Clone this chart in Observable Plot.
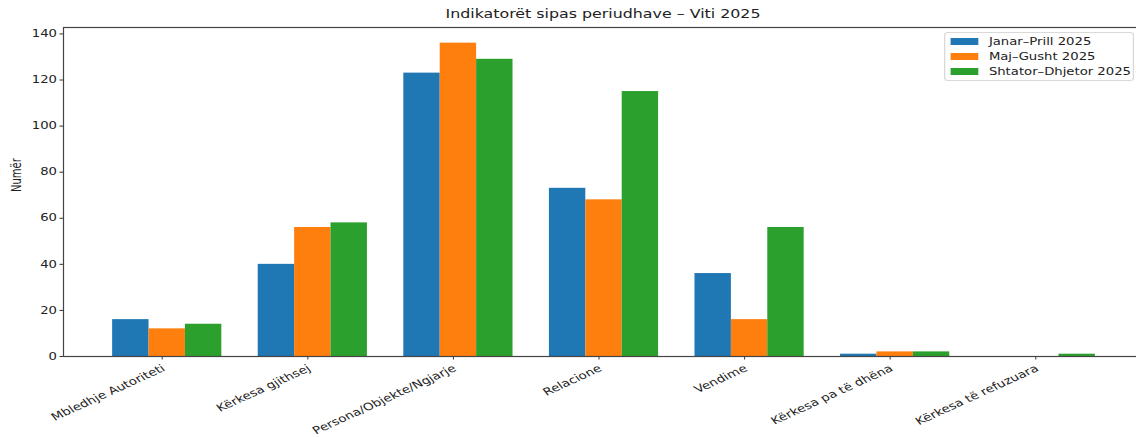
<!DOCTYPE html>
<html>
<head>
<meta charset="utf-8">
<script src="https://cdn.jsdelivr.net/npm/d3@7"></script>
<script src="https://cdn.jsdelivr.net/npm/@observablehq/plot@0.6"></script>
<style>
  html, body { margin: 0; padding: 0; background: #fff; overflow: hidden; }
  #wrap { position: relative; width: 1150px; height: 437px; font-family: "DejaVu Sans", sans-serif; }
  #title { position: absolute; left: 0; width: 1206px; top: 7px; text-align: center; font-size: 12px; color: #222;
           transform: scaleX(1.32); transform-origin: 603px 0; }
  #legend { position: absolute; left: 944px; top: 32px; width: 144px; height: 49px; box-sizing: border-box;
            border: 1px solid #d9d9d9; border-radius: 3px; background: rgba(255,255,255,0.8); font-size: 10px; color: #222;
            transform: scaleX(1.32); transform-origin: 0 0; }
  .row { position: absolute; left: 3.5px; display: flex; align-items: center; height: 14px; }
  .sw { width: 21px; height: 7px; margin-right: 8.5px; }
</style>
</head>
<body>
<div id="wrap">
  <div id="chart"></div>
  <div id="title">Indikatorët sipas periudhave – Viti 2025</div>
  <div id="legend"></div>
</div>
<script>
const categories = ["Mbledhje Autoriteti", "Kërkesa gjithsej", "Persona/Objekte/Ngjarje", "Relacione", "Vendime", "Kërkesa pa të dhëna", "Kërkesa të refuzuara"];
const series = ["Janar–Prill 2025", "Maj–Gusht 2025", "Shtator–Dhjetor 2025"];
const janarPrill = [16, 40, 123, 73, 36, 1, 0];
const majGusht = [12, 56, 136, 68, 16, 2, 0];
const shtatorDhjetor = [14, 58, 129, 115, 56, 2, 1];
const colors = ["#1f77b4", "#ff7f0e", "#2ca02c"];
const yTicks = [0, 20, 40, 60, 80, 100, 120, 140];
const barWidth = 0.25;
const STRETCH = 1.32;

const seriesValues = [janarPrill, majGusht, shtatorDhjetor];
const data = [];
categories.forEach((c, i) => {
  series.forEach((s, j) => {
    const x1 = i - barWidth * 1.5 + j * barWidth;
    data.push({cat: c, series: s, value: seriesValues[j][i], x1, x2: x1 + barWidth});
  });
});

const chart = Plot.plot({
  width: 1150,
  height: 437,
  marginLeft: 63,
  marginRight: 6,
  marginTop: 27,
  marginBottom: 81,
  style: {fontFamily: "DejaVu Sans, sans-serif", fontSize: "10px", color: "#222", background: "#fff"},
  x: {domain: [-0.7125, 6.7125]},
  y: {domain: [0, 142.8]},
  color: {domain: series, range: colors},
  marks: [
    Plot.rectY(data, {x1: "x1", x2: "x2", y1: 0, y2: "value", fill: "series", stroke: "none"}),
    Plot.axisX({ticks: d3.range(categories.length), tickFormat: i => categories[i], tickRotate: -31,
                textAnchor: "end", lineAnchor: "top", dx: -5,
                tickSize: 3.5, tickPadding: 4, label: null, fontSize: 10.3, stroke: "#333"}),
    Plot.axisY({ticks: yTicks, tickSize: 3.5, tickPadding: 3, label: null, fontSize: 10, stroke: "#333"}),
    Plot.text(["Numër"], {frameAnchor: "left", dx: -46, rotate: -90, fontSize: 10, fill: "#222"}),
    Plot.frame({stroke: "#444", strokeWidth: 1.2})
  ]
});
document.getElementById("chart").appendChild(chart);

// The reference picture is stretched horizontally: stretch every text about its anchor point
function stretchText(el, s) {
  const x = el.x.baseVal.numberOfItems ? el.x.baseVal.getItem(0).value : 0;
  const y = el.y.baseVal.numberOfItems ? el.y.baseVal.getItem(0).value : 0;
  const tl = el.transform.baseVal.consolidate();
  const m = tl ? tl.matrix : null;
  const ax = m ? m.a * x + m.c * y + m.e : x;
  const ay = m ? m.b * x + m.d * y + m.f : y;
  const g = document.createElementNS("http://www.w3.org/2000/svg", "g");
  g.setAttribute("transform", `translate(${ax},${ay}) scale(${s},1) translate(${-ax},${-ay})`);
  el.parentNode.insertBefore(g, el);
  g.appendChild(el);
}
Array.from(chart.querySelectorAll("text")).forEach(el => stretchText(el, STRETCH));

const legend = document.getElementById("legend");
series.forEach((s, j) => {
  const row = document.createElement("div");
  row.className = "row";
  row.style.top = (1 + j * 15.4) + "px";
  const sw = document.createElement("div");
  sw.className = "sw";
  sw.style.background = colors[j];
  const t = document.createElement("span");
  t.textContent = s;
  row.appendChild(sw);
  row.appendChild(t);
  legend.appendChild(row);
});
</script>
</body>
</html>
